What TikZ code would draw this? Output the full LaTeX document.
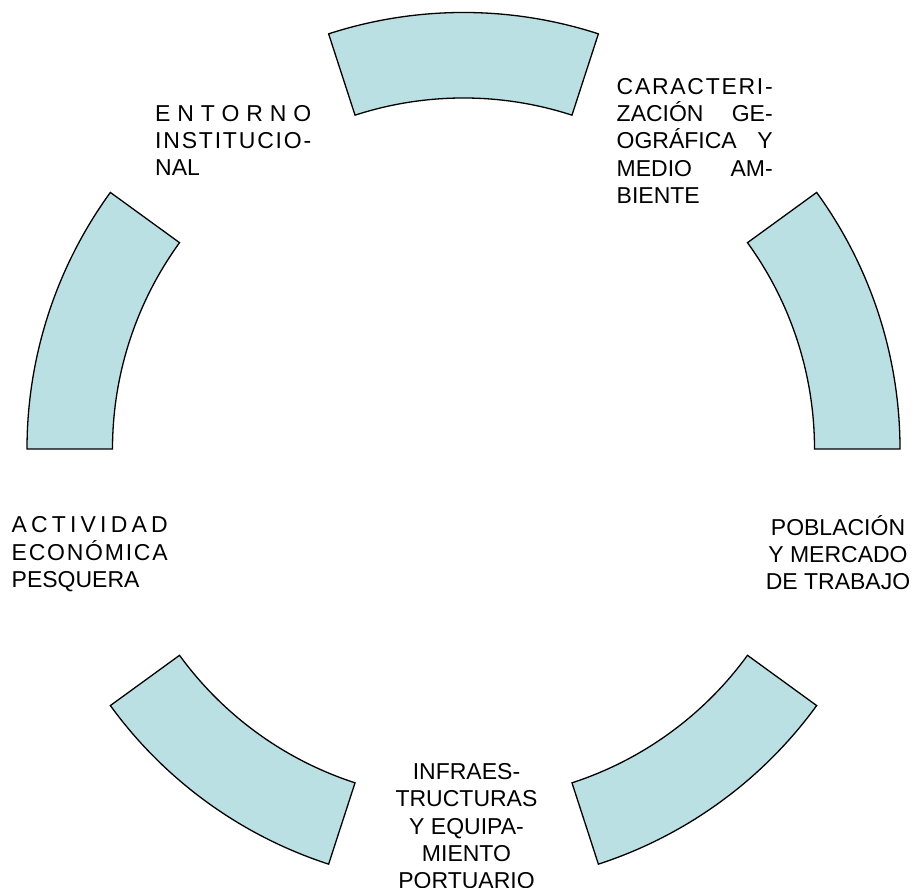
\documentclass[tikz,border=0pt]{standalone}
\usepackage{fontspec}
\setmainfont{Liberation Sans}
\usepackage{tikz}

\definecolor{segfill}{RGB}{187,224,227}
\newcommand\colw{156pt}
% spread the letters of one word over the column
\def\lspread#1#2\relax{#1\if\relax\detokenize{#2}\relax\else\hfil\lspread#2\relax\fi}
\newcommand\jword[1]{\makebox[\colw][s]{\lspread#1\relax}}
\newcommand\jline[1]{\makebox[\colw][s]{#1}}

\tikzset{
  seg/.style={draw=black,line width=1.3pt,fill=segfill},
  lbl/.style={inner sep=0pt,font=\fontsize{23}{27.3}\selectfont}
}

\begin{document}
\begin{tikzpicture}[x=1pt,y=1pt]
  \useasboundingbox (0,0) rectangle (915,888);
  \coordinate (c) at (463.5,439);

  % ring segments
  \foreach \a in {0,72,144,216,288}
    \draw[seg] ([shift={(\a:436.5)}]c) arc[start angle=\a,end angle=\a+36,radius=436.5]
      -- ([shift={(\a+36:351)}]c) arc[start angle=\a+36,end angle=\a,radius=351] -- cycle;

  \node[lbl,anchor=north west,align=left] (entorno) at (155,783)
    {\jword{ENTORNO}\\\jword{INSTITUCIO-}\\NAL};
  \node[lbl,anchor=north west,align=left] (geografia) at (616.5,810)
    {\jword{CARACTERI-}\\\jline{ZACIÓN GE-}\\\jline{OGRÁFICA Y}\\\jline{MEDIO AM-}\\BIENTE};
  \node[lbl,anchor=north west,align=left] (actividad) at (11.5,371.3)
    {\jword{ACTIVIDAD}\\\jword{ECONÓMICA}\\PESQUERA};
  \node[lbl,anchor=north,align=center] (poblacion) at (838,373)
    {POBLACIÓN\\Y MERCADO\\DE TRABAJO};
  \node[lbl,anchor=north,align=center] (puerto) at (466.5,124.7)
    {INFRAES-\\TRUCTURAS\\Y EQUIPA-\\MIENTO\\PORTUARIO};
\end{tikzpicture}
\end{document}
